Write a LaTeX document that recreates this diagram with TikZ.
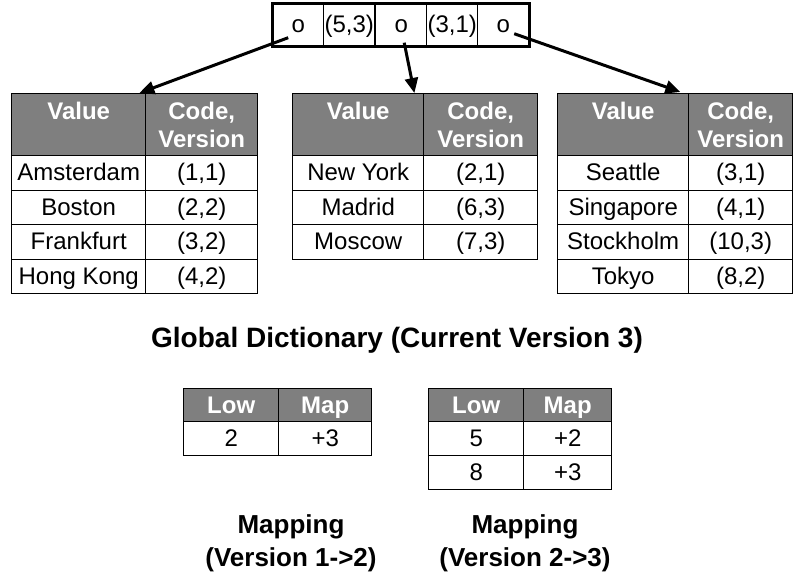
\documentclass[tikz,border=0pt]{standalone}
\usepackage{fontspec}
\setmainfont{Liberation Sans}
\usetikzlibrary{arrows.meta,calc}

\definecolor{hdrgray}{HTML}{7F7F7F}

\tikzset{
  cellbase/.style={draw=black, line width=1.4pt, fill=white, inner sep=0pt,
    anchor=north west, font=\fontsize{24}{28}\selectfont},
  oneline/.style={text height=19pt, text depth=3pt},
  cell/.style={cellbase, oneline},
  twoline/.style={cellbase, align=center, fill=hdrgray, text=white,
    font=\fontsize{24}{28}\selectfont\bfseries},
  hdrcell/.style={cell, fill=hdrgray, text=white,
    font=\fontsize{24}{28}\selectfont\bfseries},
  ptrcell/.style={draw=black, line width=1.4pt, inner sep=0pt, anchor=north west,
    minimum width=51pt, minimum height=42pt, oneline,
    font=\fontsize{24}{28}\selectfont},
  caption/.style={font=\fontsize{26}{33}\selectfont\bfseries, align=center},
  title/.style={font=\fontsize{28}{33}\selectfont\bfseries},
  ptr/.style={line width=3pt, -{Triangle[length=15pt,width=13pt]}},
}

% dictionary table: prefix, left x, divider x, right x, rows (value/code)
\newcommand{\dicttable}[5]{%
  \node[twoline, minimum width={#3-#2}, minimum height=62pt] (#1-hv) at (#2,93)
    {Value\\\phantom{V}};
  \node[twoline, minimum width={#4-#3}, minimum height=62pt] (#1-hc) at (#3,93)
    {Code,\\Version};
  \foreach \v/\c [count=\i] in {#5} {
    \node[cell, minimum width={#3-#2}, minimum height=34.5pt] (#1-v\i)
      at (#2,{155+34.5*(\i-1)}) {\v};
    \node[cell, minimum width={#4-#3}, minimum height=34.5pt] (#1-c\i)
      at (#3,{155+34.5*(\i-1)}) {\c};
  }%
}

% mapping table: prefix, left x, divider x, right x, rows (low/map)
\newcommand{\maptable}[5]{%
  \node[hdrcell, minimum width={#3-#2}, minimum height=33pt] (#1-hl) at (#2,388) {Low};
  \node[hdrcell, minimum width={#4-#3}, minimum height=33pt] (#1-hm) at (#3,388) {Map};
  \foreach \l/\m [count=\i] in {#5} {
    \node[cell, minimum width={#3-#2}, minimum height=34pt] (#1-l\i)
      at (#2,{421+34*(\i-1)}) {\l};
    \node[cell, minimum width={#4-#3}, minimum height=34pt] (#1-m\i)
      at (#3,{421+34*(\i-1)}) {\m};
  }%
}

\begin{document}
\begin{tikzpicture}[x=1pt,y=-1pt]
  \useasboundingbox (0,0) rectangle (794,576);

  % pointer array at the top
  \node[ptrcell] (p1) at (272,3) {o};
  \node[ptrcell] (p2) at (323,3) {(5,3)};
  \node[ptrcell] (p3) at (375,3) {o};
  \node[ptrcell] (p4) at (426,3) {(3,1)};
  \node[ptrcell] (p5) at (477,3) {o};
  \draw[line width=3pt] (p1.north west) rectangle (p5.south east);

  % dictionary pages
  \dicttable{L}{11}{145}{257}{Amsterdam/{(1,1)}, Boston/{(2,2)}, Frankfurt/{(3,2)}, Hong Kong/{(4,2)}}
  \dicttable{M}{292}{423}{537}{New York/{(2,1)}, Madrid/{(6,3)}, Moscow/{(7,3)}}
  \dicttable{R}{557}{688}{792}{Seattle/{(3,1)}, Singapore/{(4,1)}, Stockholm/{(10,3)}, Tokyo/{(8,2)}}

  % pointers from the array to the pages
  \coordinate (s1) at ($(p1.center)+(-10,13)$);
  \coordinate (s2) at ($(p3.center)+(3,18)$);
  \coordinate (s3) at ($(p5.center)+(11,9)$);
  \coordinate (e1) at ($(L-hv.north east)+(-7,0)$);
  \coordinate (e2) at ($(M-hv.north east)+(-10,0)$);
  \coordinate (e3) at ($(R-hv.north east)+(-9,-1)$);
  \draw[ptr] (s1) -- (e1);
  \draw[ptr] (s2) -- (e2);
  \draw[ptr] (s3) -- (e3);

  \node[title] (gd) at (397,340) {Global Dictionary (Current Version 3)};

  % version mappings
  \maptable{A}{183}{278}{371}{2/+3}
  \maptable{B}{428}{523}{611}{5/+2, 8/+3}

  \node[caption] (capA) at (291,543) {Mapping\\(Version 1->2)};
  \node[caption] (capB) at (525,543) {Mapping\\(Version 2->3)};
\end{tikzpicture}
\end{document}
